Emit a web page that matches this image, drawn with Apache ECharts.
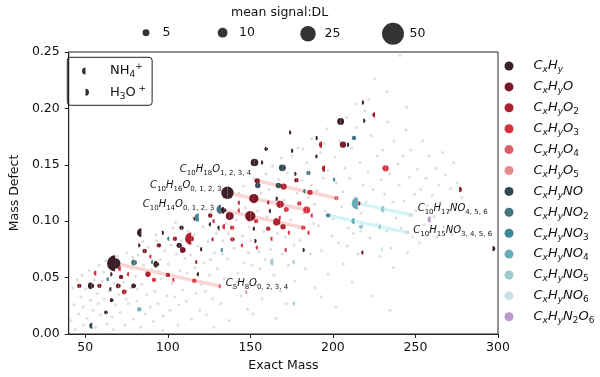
<!DOCTYPE html>
<html>
<head>
<meta charset="utf-8">
<script src="https://cdn.jsdelivr.net/npm/echarts@6/dist/echarts.min.js"></script>
<style>
  html, body { margin: 0; padding: 0; background: #fff; }
  #chart { width: 600px; height: 377px; }
</style>
</head>
<body>
<div id="chart"></div>
<script>
// compound classes and their colours
const classNames = ['CxHy', 'CxHyO', 'CxHyO2', 'CxHyO3', 'CxHyO4', 'CxHyO5', 'CxHyNO', 'CxHyNO2', 'CxHyNO3', 'CxHyNO4', 'CxHyNO5', 'CxHyNO6', 'CxHyN2O6'];
const classColors = ['#3b2127', '#7c1725', '#b02130', '#d8313d', '#de5c67', '#e4898e', '#2d4951', '#45737f', '#3c8897', '#69acb6', '#9ccacf', '#c8e2e4', '#b897c9'];

// [exact mass, mass defect, NH4+ signal:DL, H3O+ signal:DL]
const cxhy = [
  [68.06, 0.0626, 27, 12], [84.0, 0.0898, 8, 0], [96.4, 0.0898, 0, 2], [108.3, 0.0943, 2, 2],
  [82.1, 0.0786, 0, 2], [106.9, 0.0786, 3, 3], [93.4, 0.0618, 5, 2], [65.2, 0.053, 0, 2],
  [53.7, 0.0427, 5, 3], [79.5, 0.0427, 3, 2], [65.8, 0.0398, 2, 0], [66.2, 0.030, 2, 1],
  [62.8, 0.0192, 2, 1], [118.8, 0.053, 2, 0], [136.13, 0.1252, 16, 16], [134.11, 0.1096, 5, 2],
  [152.5, 0.152, 6, 6], [156.5, 0.152, 0, 2], [159.8, 0.164, 2, 1], [165.4, 0.1199, 0, 2],
  [162.4, 0.109, 2, 0], [152.7, 0.0934, 2, 0], [131.3, 0.0943, 2, 0], [126.1, 0.0972, 2, 0],
  [120.8, 0.0751, 2, 0], [152.5, 0.0824, 0, 2], [204.7, 0.1884, 5, 5], [218.4, 0.189, 0, 2],
  [173.5, 0.1787, 0, 2], [189.6, 0.1738, 0, 2], [208.6, 0.1678, 0, 2], [190.6, 0.1575, 2, 0],
  [176.7, 0.142, 0, 2], [296.7, 0.0757, 0, 3], [181.7, 0.0745, 0, 2], [217.6, 0.2052, 0, 2],
  [174.7, 0.1625, 0, 2]
];
const cxhyO = [
  [86.0, 0.0736, 2, 2], [94.6, 0.0786, 2, 2], [109.2, 0.0745, 4, 3], [71.7, 0.0506, 2, 2],
  [58.6, 0.0427, 2, 2], [46.4, 0.0427, 2, 2], [70.2, 0.0427, 3, 2], [152.12, 0.1201, 9, 9],
  [150.10, 0.1045, 12, 10], [137.6, 0.1045, 7, 6], [125.7, 0.1051, 2, 2], [116.8, 0.1022, 2, 0],
  [206.1, 0.1678, 4, 4], [177.9, 0.1363, 2, 2], [276.5, 0.1281, 0, 3], [218.4, 0.0722, 2, 0],
  [154.14, 0.1358, 3, 3]
];
const cxhyO2 = [
  [114.2, 0.0845, 16, 3], [104.3, 0.0845, 2, 2], [73.8, 0.0374, 3, 2], [88.0, 0.053, 3, 3],
  [117.8, 0.0639, 2, 0], [168.12, 0.115, 6, 5], [161.4, 0.1166, 2, 0], [143.6, 0.1163, 2, 0],
  [166.10, 0.0994, 6, 5], [160.8, 0.0934, 2, 2], [128.3, 0.1001, 2, 0], [127.7, 0.0839, 2, 0],
  [139.2, 0.0839, 2, 2], [193.4, 0.1678, 4, 0], [195.2, 0.1466, 4, 0], [170.13, 0.1307, 4, 4],
  [169.8, 0.0951, 3, 3], [225.5, 0.1943, 3, 0], [215.4, 0.1158, 0, 2], [100.05, 0.0524, 2, 2]
];
const cxhyO3 = [
  [71.5, 0.058, 3, 0], [90.0, 0.0686, 2, 0], [56.7, 0.054, 3, 0], [76.5, 0.053, 2, 0],
  [91.6, 0.048, 2, 2], [103.9, 0.048, 2, 0], [153.5, 0.1001, 2, 2], [168.4, 0.1031, 2, 0],
  [143.6, 0.1095, 2, 0], [139.0, 0.0943, 2, 2], [134.6, 0.0951, 3, 0], [145.5, 0.0786, 2, 0],
  [154.5, 0.0766, 2, 0], [231.9, 0.1469, 4, 4], [172.0, 0.1104, 3, 2], [184.11, 0.1099, 5, 5],
  [187.8, 0.1051, 2, 0], [179.7, 0.1157, 2, 2], [186.13, 0.1256, 3, 3], [185.8, 0.0898, 2, 0],
  [173.9, 0.0898, 2, 0], [163.4, 0.0845, 2, 0], [172.0, 0.0745, 2, 0], [182.09, 0.0943, 2, 2],
  [116.05, 0.0473, 2, 2]
];
const cxhyO4 = [[202.12, 0.1205, 2, 2], [132.04, 0.0423, 2, 0]];
const cxhyO5 = [[148.04, 0.037, 1.5, 0]];
const cxhyNO = [[54.3, 0.0073, 4, 0], [154.5, 0.1316, 3, 3], [169.4, 0.1473, 5, 5], [167.0, 0.1316, 3, 3]];
const cxhyNO2 = [[79.7, 0.0633, 4, 3], [132.3, 0.1104, 9, 0], [212.8, 0.1738, 2, 2], [185.2, 0.1428, 2, 2], [183.3, 0.1266, 2, 0]];
const cxhyNO3 = [[118.8, 0.1031, 7, 0], [100.9, 0.0845, 2, 0], [91.0, 0.0639, 2, 0], [64.2, 0.0486, 2, 0], [133.3, 0.0745, 2, 0], [201.3, 0.1369, 2, 0], [197.11, 0.1052, 2, 2]];
const cxhyNO4 = [[215.12, 0.1158, 16, 0], [213.10, 0.1001, 4, 0], [82.7, 0.022, 2, 2]];
const cxhyNO5 = [[231.11, 0.1107, 5, 0], [229.10, 0.095, 3, 0], [217.0, 0.0951, 2, 2], [164.0, 0.0639, 5, 0], [176.7, 0.0639, 2, 0], [176.9, 0.0269, 2, 0]];
const cxhyNO6 = [[247.11, 0.1056, 2, 2], [245.09, 0.0899, 2, 2], [230.3, 0.0751, 2, 0]];
const cxhyN2O6 = [[259.2, 0.1016, 4, 0]];
const pointsByClass = [cxhy, cxhyO, cxhyO2, cxhyO3, cxhyO4, cxhyO5, cxhyNO, cxhyNO2, cxhyNO3, cxhyNO4, cxhyNO5, cxhyNO6, cxhyN2O6];

// all other detected ions (grey background)
const grayPoints = [
  [41.5,0.012],[42.3,0.041],[43.1,0.026],[44.0,0.004],[45.2,0.048],[46.0,0.018],[47.4,0.033],[48.1,0.052],[49.0,0.008],[48.6,0.024],
  [50.4,0.040],[51.2,0.014],[52.3,0.056],[53.1,0.030],[54.8,0.021],[55.5,0.048],[56.2,0.006],[57.3,0.036],[58.4,0.061],[59.2,0.017],[57.9,0.027],
  [60.3,0.047],[61.5,0.031],[62.4,0.065],[63.2,0.009],[64.5,0.038],[65.6,0.058],[66.3,0.015],[67.5,0.045],[68.4,0.026],[69.2,0.069],[61.1,0.055],[67.0,0.004],
  [70.3,0.035],[71.2,0.019],[72.5,0.062],[73.4,0.046],[74.1,0.008],[75.3,0.072],[76.2,0.027],[77.4,0.041],[78.1,0.058],[79.3,0.013],[74.8,0.031],[78.8,0.068],
  [80.4,0.051],[81.3,0.029],[82.1,0.070],[83.5,0.006],[84.2,0.044],[85.4,0.061],[86.1,0.018],[87.3,0.035],[88.2,0.077],[89.4,0.024],[84.9,0.082],[81.7,0.040],
  [90.3,0.057],[91.4,0.011],[92.2,0.038],[93.3,0.083],[94.1,0.027],[95.4,0.066],[96.2,0.049],[97.3,0.016],[98.1,0.074],[99.4,0.034],[92.8,0.088],[96.8,0.003],[94.7,0.056],
  [100.2,0.062],[101.3,0.021],[102.4,0.045],[103.2,0.094],[104.1,0.033],[105.3,0.071],[106.2,0.008],[107.4,0.056],[108.3,0.083],[109.1,0.039],[101.8,0.079],[106.7,0.026],[104.6,0.099],
  [110.3,0.067],[111.2,0.029],[112.4,0.091],[113.1,0.048],[114.3,0.013],[115.2,0.103],[116.4,0.059],[117.1,0.036],[118.3,0.078],[119.4,0.021],[111.7,0.054],[115.9,0.088],[113.8,0.070],
  [120.2,0.044],[121.3,0.095],[122.1,0.063],[123.4,0.017],[124.2,0.082],[125.3,0.052],[126.4,0.109],[127.1,0.031],[128.2,0.072],[129.3,0.089],[122.7,0.038],[127.8,0.006],[125.8,0.066],
  [130.1,0.058],[131.4,0.114],[132.2,0.027],[133.3,0.083],[134.1,0.049],[135.4,0.098],[136.2,0.067],[137.3,0.012],[138.1,0.121],[139.4,0.041],[132.9,0.071],[136.8,0.089],[131.0,0.092],
  [140.2,0.076],[141.3,0.101],[142.4,0.054],[143.1,0.125],[144.3,0.034],[145.2,0.087],[146.4,0.063],[147.1,0.112],[148.3,0.022],[149.2,0.095],[141.8,0.046],[145.9,0.131],[148.8,0.072],
  [150.3,0.083],[151.2,0.061],[152.4,0.138],[153.1,0.044],[154.3,0.109],[155.2,0.073],[156.4,0.125],[157.1,0.031],[158.3,0.091],[159.4,0.142],[151.7,0.018],[155.8,0.058],[158.9,0.066],
  [160.2,0.104],[161.3,0.128],[162.1,0.075],[163.4,0.149],[164.2,0.052],[165.3,0.117],[166.4,0.089],[167.1,0.137],[168.3,0.038],[169.2,0.071],[161.8,0.093],[165.7,0.014],[168.9,0.156],
  [170.3,0.119],[171.2,0.086],[172.4,0.143],[173.1,0.061],[174.3,0.101],[175.2,0.158],[176.4,0.079],[177.1,0.047],[178.3,0.125],[179.4,0.094],[171.7,0.027],[175.9,0.112],[178.9,0.165],
  [180.2,0.083],[181.3,0.136],[182.1,0.107],[183.4,0.058],[184.2,0.152],[185.3,0.121],[186.4,0.071],[187.1,0.173],[188.3,0.098],[189.2,0.041],[181.8,0.164],[186.9,0.132],[188.8,0.115],
  [190.3,0.127],[191.2,0.096],[192.4,0.161],[193.1,0.074],[194.3,0.138],[195.2,0.109],[196.4,0.182],[197.1,0.053],[198.3,0.121],[199.4,0.087],[192.9,0.033],[196.8,0.145],[194.7,0.169],
  [200.2,0.102],[201.3,0.157],[202.1,0.134],[203.4,0.081],[204.2,0.171],[205.3,0.113],[206.4,0.062],[207.1,0.147],[208.3,0.192],[209.4,0.094],[201.8,0.024],[205.9,0.126],[208.8,0.078],
  [210.2,0.138],[211.3,0.165],[212.4,0.089],[213.1,0.121],[214.3,0.183],[215.2,0.071],[216.4,0.152],[217.1,0.107],[218.3,0.132],[219.4,0.198],[211.7,0.046],[216.8,0.091],[213.8,0.204],
  [220.2,0.117],[221.3,0.144],[222.4,0.085],[223.1,0.176],[224.3,0.128],[225.2,0.226],[226.4,0.097],[227.1,0.158],[228.3,0.069],[229.4,0.137],[221.8,0.208],[226.9,0.112],[223.9,0.034],
  [230.2,0.163],[231.3,0.124],[232.4,0.091],[233.1,0.188],[234.3,0.142],[235.2,0.076],[236.4,0.117],[237.1,0.171],[238.3,0.103],[239.4,0.151],[232.8,0.215],[236.8,0.059],[234.7,0.021],
  [240.2,0.132],[241.3,0.094],[242.4,0.158],[243.1,0.118],[244.3,0.181],[245.2,0.072],[246.4,0.139],[247.1,0.163],[248.3,0.086],[249.4,0.124],[240.6,0.247],[244.8,0.201],
  [250.2,0.109],[251.3,0.146],[252.4,0.081],[253.1,0.128],[254.3,0.171],[255.2,0.097],[256.4,0.138],[257.1,0.114],[258.3,0.158],[259.4,0.091],
  [260.2,0.123],[261.3,0.104],[262.4,0.147],[263.1,0.086],[264.3,0.132],[265.2,0.117],[266.4,0.161],[267.1,0.095],[268.3,0.141],
  [270.2,0.108],[271.3,0.129],[272.4,0.088],[273.1,0.152],[274.3,0.116],[275.2,0.134],[278.1,0.121]
];

// homologous series drawn as lines
const lineC5H8O = [[68.06, 0.0626], [100.05, 0.0524], [116.05, 0.0473], [132.04, 0.0423]];
const lineC10H18O = [[154.14, 0.1358], [170.13, 0.1307], [186.13, 0.1256], [202.12, 0.1205]];
const lineC10H16O = [[136.13, 0.1252], [152.12, 0.1201], [168.12, 0.1150], [184.11, 0.1099]];
const lineC10H14O = [[134.11, 0.1096], [150.10, 0.1045], [166.10, 0.0994], [182.09, 0.0943]];
const lineC10H17NO = [[215.12, 0.1158], [231.11, 0.1107], [247.11, 0.1056]];
const lineC10H15NO = [[197.11, 0.1052], [213.10, 0.1001], [229.10, 0.0950], [245.09, 0.0899]];
const lineLabels = ['C5H8O0, 2, 3, 4', 'C10H18O1, 2, 3, 4', 'C10H16O0, 1, 2, 3', 'C10H14O0, 1, 2, 3', 'C10H17NO4, 5, 6', 'C10H15NO3, 4, 5, 6'];

const sizeLegendValues = [5, 10, 25, 50];
const xTicks = [50, 100, 150, 200, 250, 300];

const FONT = 'DejaVu Sans';
const INK = '#111';

function radius(v) {
  return 1.55 * Math.sqrt(v);
}

// chemical formula -> rich text (capitals normal, counts as subscripts)
function formula(txt) {
  return txt.match(/[A-Z]+|[^A-Z]+/g).map(function (t) {
    if (/[A-Z]/.test(t)) return '{m|' + t + '}';
    if (/[xy]/.test(t)) return '{si|' + t + '}';
    return '{sd|' + t + '}';
  }).join('');
}

function formulaRich(size, sub) {
  return {
    m: { fontFamily: FONT, fontStyle: 'italic', fontSize: size, lineHeight: size + 4, color: INK },
    si: { fontFamily: FONT, fontStyle: 'italic', fontSize: sub, lineHeight: sub + 1, verticalAlign: 'bottom', color: INK },
    sd: { fontFamily: FONT, fontSize: sub, lineHeight: sub + 1, verticalAlign: 'bottom', color: INK }
  };
}

// left half = NH4+, right half = H3O+
function halfDots(color) {
  return function (params, api) {
    const c = api.coord([api.value(0), api.value(1)]);
    const nh4 = api.value(2);
    const h3o = api.value(3);
    const parts = [];
    if (nh4 > 0) {
      parts.push({ type: 'sector', shape: { cx: c[0], cy: c[1], r0: 0, r: radius(nh4), startAngle: Math.PI / 2, endAngle: Math.PI * 1.5 }, style: { fill: color } });
    }
    if (h3o > 0) {
      parts.push({ type: 'sector', shape: { cx: c[0], cy: c[1], r0: 0, r: radius(h3o), startAngle: -Math.PI / 2, endAngle: Math.PI / 2 }, style: { fill: color } });
    }
    return { type: 'group', children: parts };
  };
}

function homologue(pts, color, text, side, offset) {
  const at = side === 'left' ? pts[0] : pts[pts.length - 1];
  return {
    type: 'line', data: pts, symbol: 'none', silent: true, z: 2,
    lineStyle: { color: color, width: 3.5 },
    markPoint: {
      symbol: 'circle', symbolSize: 0, silent: true,
      data: [{ coord: at }],
      label: { show: true, position: side, offset: offset, formatter: formula(text), rich: formulaRich(10, 7) }
    }
  };
}

const series = [];
series.push({ type: 'scatter', name: 'all', data: grayPoints, symbolSize: 3, itemStyle: { color: '#d6d6d6' }, z: 1, silent: true });
series.push(homologue(lineC5H8O, '#fbd4d4', lineLabels[0], 'right', [0, -3]));
series.push(homologue(lineC10H18O, '#fbd4d4', lineLabels[1], 'left', [-1, -11]));
series.push(homologue(lineC10H16O, '#fbd4d4', lineLabels[2], 'left', [-1, -7]));
series.push(homologue(lineC10H14O, '#fbd4d4', lineLabels[3], 'left', [-5, -6]));
series.push(homologue(lineC10H17NO, '#d3f5f8', lineLabels[4], 'right', [2, -6]));
series.push(homologue(lineC10H15NO, '#d3f5f8', lineLabels[5], 'right', [1, -2]));

pointsByClass.forEach(function (pts, i) {
  series.push({
    type: 'custom', name: classNames[i], coordinateSystem: 'cartesian2d',
    data: pts, encode: { x: 0, y: 1 }, renderItem: halfDots(classColors[i]),
    itemStyle: { color: classColors[i] }, z: 3, silent: true
  });
});

// empty series that only feed the ion and size legends
['NH4', 'H3O'].concat(sizeLegendValues.map(function (v) { return 's' + v; })).forEach(function (n) {
  series.push({ type: 'scatter', name: n, data: [], itemStyle: { color: '#000' } });
});

const leftHalf = 'path://M5,0A5,5,0,0,0,5,10ZM10,5L10,5';
const rightHalf = 'path://M5,0A5,5,0,0,1,5,10ZM0,5L0,5';

const legends = [];
legends.push({
  data: classNames, orient: 'vertical', left: 504.5, top: 59.5, padding: 0,
  itemWidth: 9, itemHeight: 9, itemGap: 5.9, icon: 'circle', selectedMode: false,
  formatter: function (n) { return '{gap| }' + formula(n); },
  textStyle: { rich: Object.assign({ gap: { width: 15 } }, formulaRich(13, 9)) }
});
legends.push({
  data: [{ name: 'NH4', icon: leftHalf }, { name: 'H3O', icon: rightHalf }],
  orient: 'vertical', left: 67.3, top: 57.3, padding: [5.2, 6, 4.5, 14.7],
  itemWidth: 7, itemHeight: 7, itemGap: 4.3, selectedMode: false,
  borderColor: '#222', borderWidth: 1, borderRadius: 3,
  formatter: function (n) {
    return n === 'NH4' ? '{gap| }{r|NH}{b|4}{p|+}' : '{gap| }{r|H}{b|3}{r|O}{p| +}';
  },
  textStyle: {
    rich: {
      gap: { width: 16 },
      r: { fontFamily: FONT, fontSize: 13, lineHeight: 17, color: INK },
      b: { fontFamily: FONT, fontSize: 9, lineHeight: 10, verticalAlign: 'bottom', color: INK },
      p: { fontFamily: FONT, fontSize: 9, lineHeight: 10, verticalAlign: 'top', color: INK }
    }
  }
});
const sizeCenters = [146, 222.6, 308, 393];
sizeLegendValues.forEach(function (v, i) {
  const d = 3.1 * Math.sqrt(v);
  legends.push({
    data: ['s' + v], left: sizeCenters[i] - d / 2, top: 33.7 - Math.max(d, 15) / 2, padding: 0,
    itemWidth: d, itemHeight: d, icon: 'circle', selectedMode: false,
    formatter: function () { return '{gap| }{n|' + v + '}'; },
    textStyle: { rich: { gap: { width: Math.max(0.5, 11.5 - d / 2) }, n: { fontFamily: FONT, fontSize: 12.5, lineHeight: 15, color: INK } } }
  });
});

const axisText = { fontFamily: FONT, fontSize: 12.5, color: INK };
const chart = echarts.init(document.getElementById('chart'));
chart.setOption({
  animation: false,
  title: { text: 'mean signal:DL', left: 231, top: 5, padding: 0, textStyle: { fontFamily: FONT, fontSize: 12.5, fontWeight: 'normal', color: INK, lineHeight: 15 } },
  grid: { left: 61, right: 102, top: 52, bottom: 42, show: true, borderColor: '#222', borderWidth: 1, backgroundColor: 'transparent' },
  legend: legends,
  xAxis: {
    type: 'value', min: 40, max: 300,
    name: 'Exact Mass', nameLocation: 'middle', nameGap: 25, nameTextStyle: axisText,
    axisLine: { show: true, onZero: false, lineStyle: { color: '#222', width: 1 } },
    axisTick: { show: true, length: 4, customValues: xTicks, lineStyle: { color: '#222' } },
    axisLabel: Object.assign({ customValues: xTicks, margin: 7 }, axisText),
    splitLine: { show: false }
  },
  yAxis: {
    type: 'value', min: 0, max: 0.25, interval: 0.05,
    name: 'Mass Defect', nameLocation: 'middle', nameGap: 43, nameTextStyle: axisText,
    axisLine: { show: true, onZero: false, lineStyle: { color: '#222', width: 1 } },
    axisTick: { show: true, length: 4, lineStyle: { color: '#222' } },
    axisLabel: Object.assign({ margin: 9, formatter: function (v) { return v.toFixed(2); } }, axisText),
    splitLine: { show: false }
  },
  series: series
});
</script>
</body>
</html>
